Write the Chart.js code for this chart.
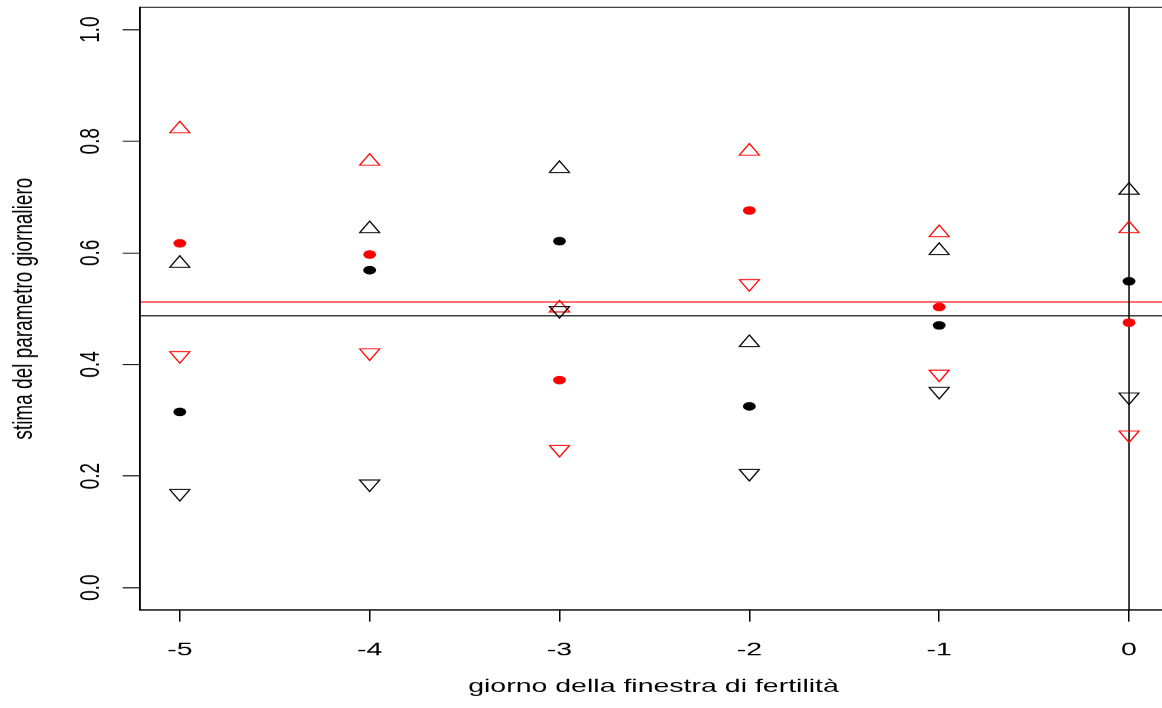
<!DOCTYPE html>
<html>
<head>
<meta charset="utf-8">
<script src="https://cdn.jsdelivr.net/npm/chart.js@4.4.1/dist/chart.umd.min.js"></script>
<style>
  html, body { margin: 0; padding: 0; background: #ffffff; overflow: hidden; width: 1162px; height: 708px; }
  canvas { display: block; }
</style>
</head>
<body>
<canvas id="plot" width="778" height="708" style="width:1167px;height:708px"></canvas>
<script>
// Days of the fertile window
const days = [-5, -4, -3, -2, -1, 0];

// Black group: daily estimate with upper and lower bounds
const blackEstimate = [0.315, 0.569, 0.621, 0.325, 0.470, 0.549];
const blackUpper    = [0.581, 0.643, 0.751, 0.439, 0.604, 0.712];
const blackLower    = [0.169, 0.186, 0.497, 0.205, 0.352, 0.342];

// Red group: daily estimate with upper and lower bounds
const redEstimate = [0.617, 0.597, 0.372, 0.676, 0.503, 0.475];
const redUpper    = [0.822, 0.764, 0.501, 0.782, 0.636, 0.643];
const redLower    = [0.416, 0.421, 0.248, 0.545, 0.383, 0.274];

// Overall reference levels and the day-0 marker
const redReference = 0.512;
const blackReference = 0.487;
const dayMarker = 0;

// Axis ticks
const xTickValues = [-5, -4, -3, -2, -1, 0];
const yTickValues = [0, 0.2, 0.4, 0.6, 0.8, 1.0];
const yTickLabels = ['0.0', '0.2', '0.4', '0.6', '0.8', '1.0'];

const RED = '#ff0000';
const BLACK = '#000000';
const FONT = { family: "'Liberation Sans', Arial, Helvetica, sans-serif", size: 19 };

function series(label, values, color, shape) {
  const common = {
    label,
    data: days.map((d, i) => ({ x: d, y: values[i] })),
    showLine: false,
    pointBorderColor: color
  };
  if (shape === 'dot') {
    return Object.assign(common, {
      pointStyle: 'circle', pointRadius: 4.3, pointHoverRadius: 4.3,
      pointBackgroundColor: color, pointBorderWidth: 0
    });
  }
  return Object.assign(common, {
    pointStyle: 'triangle', rotation: shape === 'down' ? 180 : 0,
    pointRadius: 7.7, pointHoverRadius: 7.7,
    pointBackgroundColor: 'rgba(0,0,0,0)', pointBorderWidth: 1
  });
}

// Axes keep exactly the size given to them, without extra room for overhanging labels
function fixSize(prop, value) {
  return s => {
    s[prop] = value;
    s.paddingLeft = 0; s.paddingRight = 0; s.paddingTop = 0; s.paddingBottom = 0;
  };
}

// Reference lines and the closed plot frame
const framePlugin = {
  id: 'frame',
  beforeDatasetsDraw(chart) {
    const { ctx, chartArea: a, scales: { x, y } } = chart;
    ctx.save();
    ctx.beginPath();
    ctx.rect(a.left, a.top, a.right - a.left, a.bottom - a.top);
    ctx.clip();
    ctx.lineWidth = 1;
    [[redReference, RED], [blackReference, BLACK]].forEach(([v, c]) => {
      const py = y.getPixelForValue(v);
      ctx.strokeStyle = c;
      ctx.beginPath();
      ctx.moveTo(a.left, py);
      ctx.lineTo(a.right, py);
      ctx.stroke();
    });
    const px = x.getPixelForValue(dayMarker);
    ctx.strokeStyle = BLACK;
    ctx.beginPath();
    ctx.moveTo(px, a.top);
    ctx.lineTo(px, a.bottom);
    ctx.stroke();
    ctx.restore();
  },
  afterDraw(chart) {
    const { ctx, chartArea: a } = chart;
    ctx.save();
    ctx.strokeStyle = BLACK;
    ctx.lineWidth = 1;
    ctx.strokeRect(a.left, a.top, a.right - a.left, a.bottom - a.top);
    ctx.restore();
  }
};

new Chart(document.getElementById('plot'), {
  type: 'scatter',
  data: {
    datasets: [
      series('stima (nero)', blackEstimate, BLACK, 'dot'),
      series('limite superiore (nero)', blackUpper, BLACK, 'up'),
      series('limite inferiore (nero)', blackLower, BLACK, 'down'),
      series('stima (rosso)', redEstimate, RED, 'dot'),
      series('limite superiore (rosso)', redUpper, RED, 'up'),
      series('limite inferiore (rosso)', redLower, RED, 'down')
    ]
  },
  options: {
    responsive: false,
    animation: false,
    devicePixelRatio: 1.5,
    events: [],
    layout: { autoPadding: false, padding: { top: 7.3, left: 0, right: 0, bottom: 0 } },
    plugins: { legend: { display: false }, tooltip: { enabled: false } },
    scales: {
      x: {
        type: 'linear',
        min: -5.21,
        max: 0.2,
        afterBuildTicks: s => { s.ticks = xTickValues.map(v => ({ value: v })); },
        afterFit: fixSize('height', 98),
        grid: { drawOnChartArea: false, drawTicks: true, tickLength: 11.7, color: BLACK, lineWidth: 1 },
        border: { display: true, color: BLACK, width: 1 },
        ticks: {
          color: BLACK, font: FONT, padding: 17, maxRotation: 0, autoSkip: false,
          callback: v => String(v)
        },
        title: {
          display: true, text: 'giorno della finestra di fertilità',
          color: BLACK, font: FONT, padding: { top: 0, bottom: 9.6 }
        }
      },
      y: {
        type: 'linear',
        min: -0.04,
        max: 1.04,
        afterBuildTicks: s => { s.ticks = yTickValues.map(v => ({ value: v })); },
        afterFit: fixSize('width', 93.3),
        grid: { drawOnChartArea: false, drawTicks: true, tickLength: 11.5, color: BLACK, lineWidth: 1 },
        border: { display: true, color: BLACK, width: 1 },
        ticks: {
          color: BLACK, font: FONT, padding: 8, minRotation: 90, maxRotation: 90,
          crossAlign: 'center', autoSkip: false,
          callback: (v, i) => yTickLabels[i]
        },
        title: {
          display: true, text: 'stima del parametro giornaliero',
          color: BLACK, font: FONT, padding: { top: 4.6, bottom: 0 }
        }
      }
    }
  },
  plugins: [framePlugin]
});
</script>
</body>
</html>
